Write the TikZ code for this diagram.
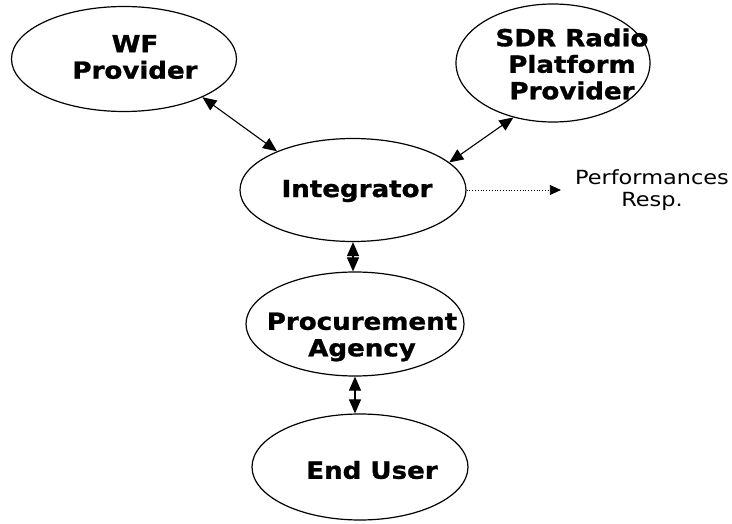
\documentclass[tikz,border=0pt]{standalone}
\usepackage{fontspec}
\setmainfont{DejaVu Sans}[FakeStretch=1.15, BoldFeatures={FakeStretch=1.11,FakeBold=1.2}]
\usetikzlibrary{shapes.geometric,arrows.meta}
\begin{document}
\begin{tikzpicture}[x=1pt,y=-1pt,
  ell/.style={draw, ellipse, line width=1.2pt, inner sep=0pt},
  lbl/.style={font=\bfseries\fontsize{23.5}{26.5}\selectfont, align=center, inner sep=0pt},
  note/.style={font=\fontsize{19.5}{22}\selectfont, align=center, inner sep=0pt},
  dbl/.style={{Triangle[length=14pt,width=12pt]}-{Triangle[length=14pt,width=12pt]}, line width=1.1pt},
  dot/.style={dotted, line width=0.8pt, -{Triangle[length=11pt,width=10pt]}}
]
\useasboundingbox (0,0) rectangle (732,524);
\node[ell, minimum width=225pt, minimum height=105pt] (wf) at (124,59) {};
\node[ell, minimum width=194pt, minimum height=118pt] (sdr) at (553,63) {};
\node[ell, minimum width=226pt, minimum height=103pt] (int) at (353,190) {};
\node[ell, minimum width=218pt, minimum height=104pt] (proc) at (355,324) {};
\node[ell, minimum width=216pt, minimum height=106pt] (eu) at (360,467) {};
\node[lbl] (wft) at (135,57) {WF\\Provider};
\node[lbl] (sdrt) at (572,64) {SDR Radio\\Platform\\Provider};
\node[lbl] (intt) at (357,191) {Integrator};
\node[lbl] (proct) at (362,337) {Procurement\\Agency};
\node[lbl] (eut) at (372,470) {End User};
\node[note] (perf) at (652,190) {Performances\\Resp.};
\draw[dbl] (wf.-26) -- (int.153);
\draw[dbl] (sdr.-126) -- (int.16);
\draw[dbl] (int.south) -- (int.south |- proc.north);
\draw[dbl] (proc.south) -- (proc.south |- eu.north);
\draw[dot, shorten >=14pt] (int.east) -- (int.east -| perf.west);
\end{tikzpicture}
\end{document}
